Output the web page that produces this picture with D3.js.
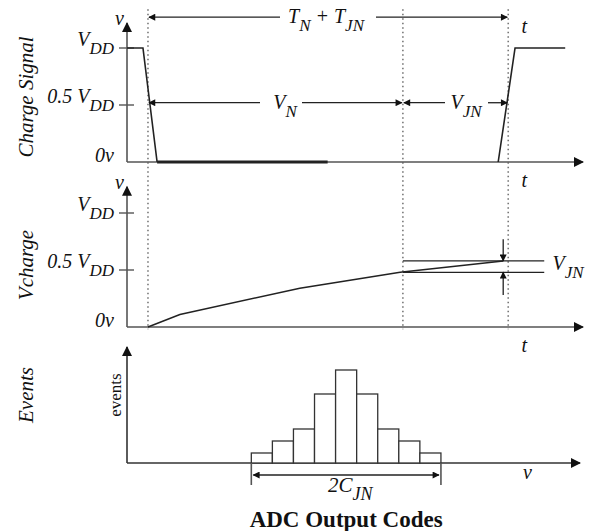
<!DOCTYPE html>
<html>
<head>
<meta charset="utf-8">
<script src="https://cdnjs.cloudflare.com/ajax/libs/d3/7.8.5/d3.min.js"></script>
<style>
  body { margin: 0; background: #fff; }
  text { font-family: "Liberation Serif", "Times New Roman", serif; fill: #111; }
  .it { font-style: italic; }
</style>
</head>
<body>
<svg id="chart" width="591" height="531"></svg>
<script>

// time in arbitrary units (0..100), voltage in units of VDD
var markerTimes = [4.6, 60.5, 83.6];           // dotted guides
var fallTime  = [0, 3.5, 6.6];
var fallLevel = [1, 1, 0];
var lowTime   = [6.6, 44];                     // heavy low part of the signal
var riseTime  = [81.4, 85.1, 96.1];
var riseLevel = [0, 1, 1];

var chargeTime  = [4.6, 11.6, 37.9, 59.9, 82.5];
var chargeLevel = [0, 0.11, 0.34, 0.48, 0.58];
var jitterLevels = [0.58, 0.48];               // the two V_JN lines
var jitterSpan = [60.5, 91.5];
var jitterArrowTime = 82.5;

var tickValues = [0, 0.5, 1];
var tickLabels = [["0v", ""], ["0.5 V", "DD"], ["V", "DD"]];

// histogram of ADC output codes
var codes  = [-4, -3, -2, -1, 0, 1, 2, 3, 4];
var events = [1, 2.2, 3.4, 6.9, 9.3, 6.9, 3.4, 2.2, 1];

var svg = d3.select("#chart");

var x = d3.scaleLinear().domain([0, 100]).range([127, 583]);
var ySig = d3.scaleLinear().domain([0, 1]).range([162, 48]);
var yChg = d3.scaleLinear().domain([0, 1]).range([327, 213]);
var hx = d3.scaleLinear().domain([-10.4, 11.1]).range([127, 580]);
var hy = d3.scaleLinear().domain([0, 11.6]).range([463, 347]);

var defs = svg.append("defs");
defs.append("marker").attr("id", "axhead")
    .attr("viewBox", "0 0 10 10").attr("refX", 9).attr("refY", 5)
    .attr("markerUnits", "userSpaceOnUse")
    .attr("markerWidth", 11).attr("markerHeight", 10).attr("orient", "auto")
  .append("path").attr("d", "M0,0L10,5L0,10z").attr("fill", "#111");
defs.append("marker").attr("id", "head")
    .attr("viewBox", "0 0 10 10").attr("refX", 9).attr("refY", 5)
    .attr("markerUnits", "userSpaceOnUse")
    .attr("markerWidth", 9).attr("markerHeight", 7).attr("orient", "auto-start-reverse")
  .append("path").attr("d", "M0,0L10,5L0,10z").attr("fill", "#111");

// subscripted label helper
function label(x0, y0, parts, size, anchor, cls) {
  var t = svg.append("text")
    .attr("x", x0).attr("y", y0)
    .attr("font-size", size)
    .attr("text-anchor", anchor || "start")
    .attr("class", cls == null ? "it" : cls);
  var down = false;
  parts.forEach(function(p, i) {
    if (!p) return;
    var sub = i % 2 == 1;
    var s = t.append("tspan").text(p);
    if (sub) { s.attr("dy", 8).attr("font-size", size - 3); down = true; }
    else if (down) { s.attr("dy", -8); down = false; }
  });
  return t;
}

function arrowLine(x1, y1, x2, y2, start, end, color) {
  var l = svg.append("line")
    .attr("x1", x1).attr("y1", y1).attr("x2", x2).attr("y2", y2)
    .attr("stroke", color || "#222").attr("stroke-width", 1.3);
  if (start) l.attr("marker-start", "url(#head)");
  if (end) l.attr("marker-end", "url(#head)");
  return l;
}

// dotted guides across both time panels
svg.selectAll(".guide").data(markerTimes).enter().append("line")
  .attr("class", "guide")
  .attr("x1", function(d) { return x(d); }).attr("x2", function(d) { return x(d); })
  .attr("y1", ySig(1.34)).attr("y2", yChg(-0.02))
  .attr("stroke", "#777").attr("stroke-width", 1.6)
  .attr("stroke-dasharray", "1.5,3");

// axes for time panels
function timeAxes(y, topV) {
  svg.append("line").attr("x1", x(0)).attr("y1", y(0)).attr("x2", x(100)).attr("y2", y(0))
    .attr("stroke", "#555").attr("stroke-width", 1.6).attr("marker-end", "url(#axhead)");
  svg.append("line").attr("x1", x(0)).attr("y1", y(0)).attr("x2", x(0)).attr("y2", y(topV))
    .attr("stroke", "#555").attr("stroke-width", 1.6).attr("marker-end", "url(#axhead)");
  svg.selectAll(null).data(tickValues.slice(1)).enter().append("line")
    .attr("x1", x(0) - 8).attr("x2", x(0) + 7)
    .attr("y1", function(d) { return y(d); }).attr("y2", function(d) { return y(d); })
    .attr("stroke", "#555").attr("stroke-width", 1.4);
  tickValues.forEach(function(v, i) {
    var base = v == 0 ? y(v) : y(v) - 2;
    label(x(0) - 13, base, tickLabels[i], 20, "end");
  });
  label(x(0) - 12, y(topV) + 2, ["v"], 20, "start");
  label(x(86.5), y(0) + 25, ["t"], 20, "start");
}
timeAxes(ySig, 1.22);
timeAxes(yChg, 1.23);

// charge signal
var line = d3.line().x(function(d) { return x(d[0]); }).y(function(d) { return ySig(d[1]); });
svg.append("path").datum(d3.zip(fallTime, fallLevel)).attr("d", line)
  .attr("fill", "none").attr("stroke", "#222").attr("stroke-width", 1.6);
svg.append("path").datum(lowTime.map(function(t) { return [t, 0]; })).attr("d", line)
  .attr("fill", "none").attr("stroke", "#222").attr("stroke-width", 3);
svg.append("path").datum(d3.zip(riseTime, riseLevel)).attr("d", line)
  .attr("fill", "none").attr("stroke", "#222").attr("stroke-width", 1.6);

// top annotation arrows
function splitArrow(t1, t2, y0, parts, cx, gapL, gapR, startHead, endHead) {
  label(cx, y0 + 6, parts, 20, "middle");
  arrowLine(x(t1) + 1, y0, cx - gapL, y0, startHead, false);
  arrowLine(cx + gapR, y0, x(t2) - 1, y0, false, endHead);
}
splitArrow(markerTimes[0], markerTimes[2], ySig(1.27), ["T", "N", " + T", "JN"], 326, 46, 50, true, true);
splitArrow(markerTimes[0], markerTimes[1], ySig(0.52), ["V", "N"], 285, 25, 17, true, true);
splitArrow(markerTimes[1], markerTimes[2], ySig(0.52), ["V", "JN"], 466, 21, 22, true, true);
label(x(86.5), ySig(1.13), ["t"], 20, "start");

// charge curve
var cline = d3.line()
  .x(function(d) { return x(d[0]); }).y(function(d) { return yChg(d[1]); });
svg.append("path").datum(d3.zip(chargeTime, chargeLevel)).attr("d", cline)
  .attr("fill", "none").attr("stroke", "#222").attr("stroke-width", 1.5);

svg.selectAll(".jit").data(jitterLevels).enter().append("line")
  .attr("class", "jit")
  .attr("x1", x(jitterSpan[0])).attr("x2", x(jitterSpan[1]))
  .attr("y1", function(d) { return yChg(d); }).attr("y2", function(d) { return yChg(d); })
  .attr("stroke", "#222").attr("stroke-width", 1.3);
arrowLine(x(jitterArrowTime), yChg(0.77), x(jitterArrowTime), yChg(jitterLevels[0]), false, true);
arrowLine(x(jitterArrowTime), yChg(0.28), x(jitterArrowTime), yChg(jitterLevels[1]), false, true);
label(x(93.3), yChg(0.5), ["V", "JN"], 20, "start");

// histogram panel
svg.append("line").attr("x1", hx(-10.4)).attr("y1", hy(0)).attr("x2", hx(11.1)).attr("y2", hy(0))
  .attr("stroke", "#333").attr("stroke-width", 1.6).attr("marker-end", "url(#axhead)");
svg.append("line").attr("x1", hx(-10.4)).attr("y1", hy(0)).attr("x2", hx(-10.4)).attr("y2", hy(11.6))
  .attr("stroke", "#333").attr("stroke-width", 1.6).attr("marker-end", "url(#axhead)");

svg.selectAll(".bar").data(d3.zip(codes, events)).enter().append("rect")
  .attr("class", "bar")
  .attr("x", function(d) { return hx(d[0] - 0.5); })
  .attr("y", function(d) { return hy(d[1]); })
  .attr("width", hx(0.5) - hx(-0.5))
  .attr("height", function(d) { return hy(0) - hy(d[1]); })
  .attr("fill", "#fff").attr("stroke", "#333").attr("stroke-width", 1.3);

var lo = d3.min(codes) - 0.5, hi = d3.max(codes) + 0.5;
[lo, hi].forEach(function(c) {
  svg.append("line").attr("x1", hx(c)).attr("x2", hx(c))
    .attr("y1", hy(0)).attr("y2", hy(-2.2))
    .attr("stroke", "#555").attr("stroke-width", 1.6);
});
arrowLine(hx(lo) + 2, hy(-1.2), hx(hi) - 2, hy(-1.2), true, true);
label(hx(0.2), hy(-2.9), ["2C", "JN"], 21, "middle");
label(hx(0), 527, ["ADC Output Codes"], 23, "middle", "").attr("font-weight", "bold");
label(hx(8.4), hy(-1.6), ["v"], 20, "start");

svg.append("text").attr("transform", "translate(" + (hx(-10.4) - 6) + "," + hy(6.8) + ") rotate(-90)")
  .attr("text-anchor", "middle").attr("font-size", 17).text("events");

// panel titles
function panelTitle(cy, txt) {
  svg.append("text").attr("class", "it")
    .attr("transform", "translate(33," + cy + ") rotate(-90)")
    .attr("text-anchor", "middle").attr("font-size", 21).text(txt);
}
panelTitle(97, "Charge Signal");
panelTitle(265, "Vcharge");
panelTitle(395, "Events");

</script>
</body>
</html>
